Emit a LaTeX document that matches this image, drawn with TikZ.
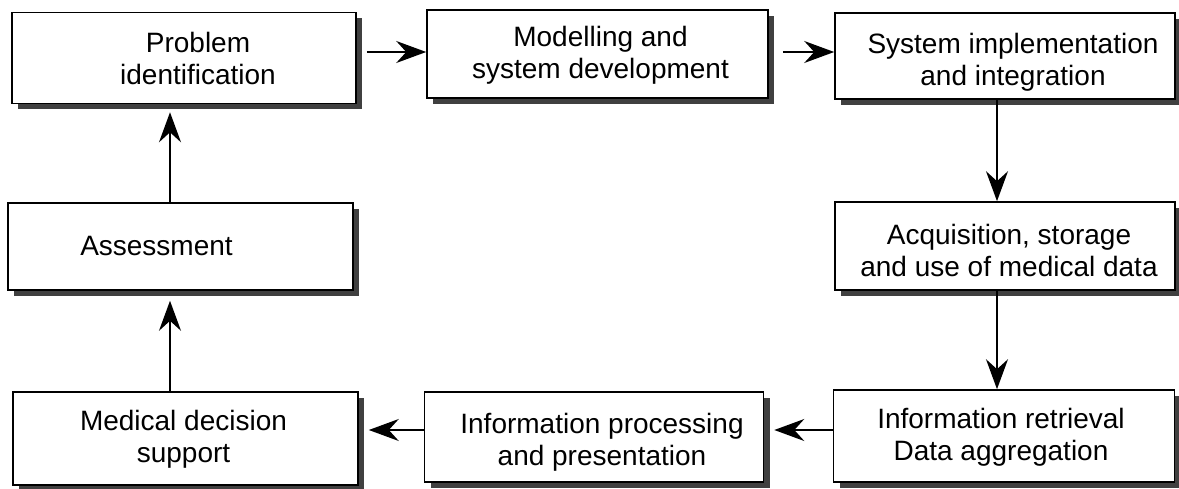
\documentclass[tikz,border=0pt]{standalone}
\usepackage{fontspec}
\setmainfont{Liberation Sans}
\usetikzlibrary{shadows,arrows.meta}
\begin{document}
\begin{tikzpicture}[x=1pt,y=-1pt,
  box/.style={draw=black, line width=1.6pt, fill=white, inner sep=0pt,
    general shadow={fill=black!75, shadow xshift=6pt, shadow yshift=-6pt}},
  txt/.style={align=center, font=\fontsize{28}{32}\selectfont, inner sep=0pt},
  arr/.style={-{Stealth[length=30pt,width=22pt,inset=10pt]}, line width=1.6pt}]
\useasboundingbox (0,0) rectangle (1179,489);
\node[box, minimum width=344pt, minimum height=91pt,
  label={[txt, xshift=14pt, yshift=0pt]center:{Problem\\identification}}] (p1) at (184,58) {};
\node[box, minimum width=341pt, minimum height=88pt,
  label={[txt, xshift=3pt, yshift=-1pt]center:{Modelling and\\system development}}] (p2) at (597.5,54) {};
\node[box, minimum width=340pt, minimum height=86pt,
  label={[txt, xshift=8pt, yshift=-6pt]center:{System implementation\\and integration}}] (p3) at (1005,56) {};
\node[box, minimum width=340pt, minimum height=88pt,
  label={[txt, xshift=4pt, yshift=-4pt]center:{Acquisition, storage\\and use of medical data}}] (p4) at (1005,246) {};
\node[box, minimum width=341pt, minimum height=92pt,
  label={[txt, xshift=-3pt, yshift=-1pt]center:{Information retrieval\\Data aggregation}}] (p5) at (1004,436) {};
\node[box, minimum width=339pt, minimum height=90pt,
  label={[txt, xshift=8pt, yshift=-5pt]center:{Information processing\\and presentation}}] (p6) at (594,437) {};
\node[box, minimum width=345pt, minimum height=93pt,
  label={[txt, xshift=-2pt, yshift=-1pt]center:{Medical decision\\support}}] (p7) at (185.5,438.5) {};
\node[box, minimum width=345pt, minimum height=87pt,
  label={[txt, xshift=-24pt, yshift=0pt]center:{Assessment}}] (p8) at (180.5,246.5) {};
\draw[arr] ([xshift=10pt]p1.east |- 0,52) -- (p2.west |- 0,52);
\draw[arr] ([xshift=14pt]p2.east |- 0,52) -- (p3.west |- 0,52);
\draw[arr] (p3.south -| 997,0) -- (p4.north -| 997,0);
\draw[arr] (p4.south -| 997,0) -- (p5.north -| 997,0);
\draw[arr] (p5.west |- 0,430) -- ([xshift=10pt]p6.east |- 0,430);
\draw[arr] (p6.west |- 0,430) -- ([xshift=10pt]p7.east |- 0,430);
\draw[arr] (p7.north -| 170,0) -- ([yshift=-10pt]p8.south -| 170,0);
\draw[arr] (p8.north -| 170,0) -- ([yshift=-8pt]p1.south -| 170,0);
\end{tikzpicture}
\end{document}
